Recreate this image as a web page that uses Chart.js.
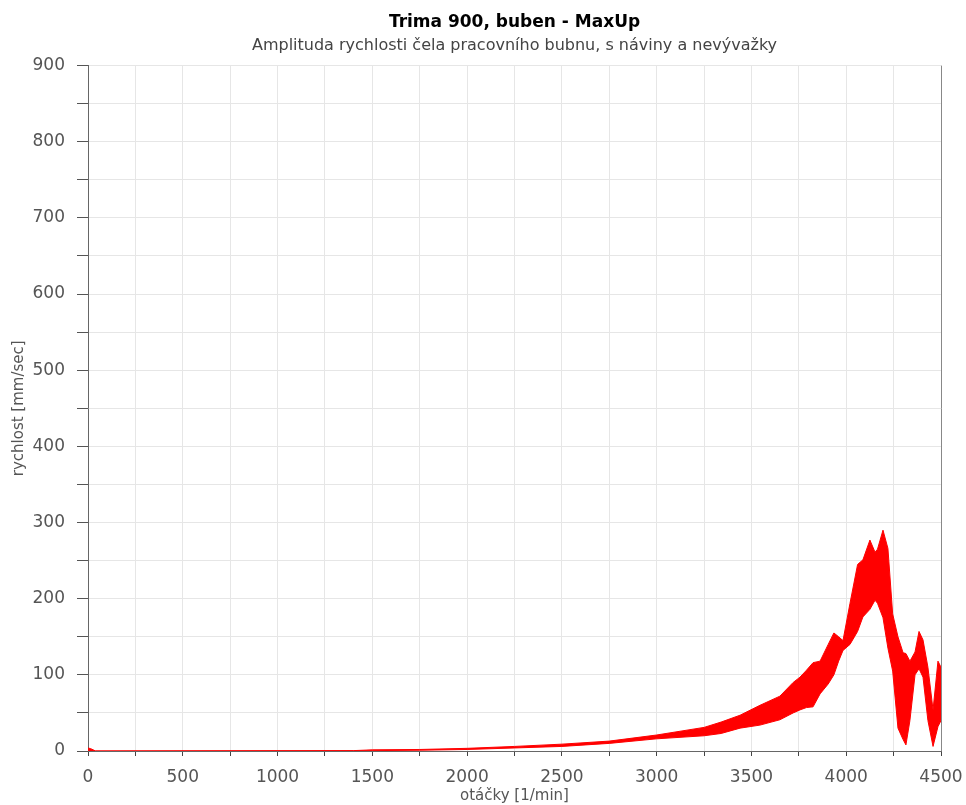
<!DOCTYPE html>
<html>
<head>
<meta charset="utf-8">
<script src="https://cdn.jsdelivr.net/npm/chart.js@4.4.1/dist/chart.umd.min.js"></script>
<style>
  html, body { margin: 0; padding: 0; background: #fff; }
  #wrap { width: 966px; height: 805px; }
</style>
</head>
<body>
<div id="wrap"><canvas id="chart"></canvas></div>
<script>
// otáčky [1/min]
const rpm = [0, 15, 40, 1400, 1500, 1750, 2000, 2250, 2500, 2750, 3000, 3250, 3340, 3440, 3545, 3650, 3720, 3756, 3790, 3825, 3862, 3905, 3935, 3960, 3983, 4020, 4060, 4088, 4125, 4152, 4165, 4194, 4220, 4245, 4273, 4300, 4315, 4336, 4363, 4384, 4405, 4431, 4458, 4484, 4500];
// upper / lower envelope of the velocity amplitude [mm/sec]
const upper = [4, 3, 0, 0.5, 1.5, 2, 3.5, 6, 9, 13, 21, 31, 38, 47, 60, 72, 90, 97, 106, 116, 118, 140, 155, 150, 145, 194, 245, 251, 277, 261, 265, 290, 266, 180, 150, 129, 128, 118, 130, 157, 146, 110, 54, 118, 110];
const lower = [0, 0, 0, 0, 0.5, 1, 2, 4, 6, 10, 16, 20, 23, 30, 34, 41, 50, 54, 57, 58, 75, 88, 100, 118, 132, 140, 157, 176, 186, 198, 194, 175, 135, 105, 30, 15, 8, 40, 100, 108, 97, 40, 6, 32, 40];

const font = '"DejaVu Sans", Verdana, sans-serif';

const toPoints = (ys) => rpm.map((x, i) => ({ x: x, y: ys[i] }));

const ctx = document.getElementById('chart').getContext('2d');
const chart = new Chart(ctx, {
    type: 'line',
    data: {
        datasets: [{
            label: 'max',
            data: toPoints(upper),
            borderColor: '#ff0000',
            backgroundColor: '#ff0000',
            borderWidth: 1,
            pointRadius: 0,
            fill: '+1'
        }, {
            label: 'min',
            data: toPoints(lower),
            borderColor: '#ff0000',
            borderWidth: 1,
            pointRadius: 0,
            fill: false
        }]
    },
    options: {
        responsive: true,
        maintainAspectRatio: false,
        animation: false,
        layout: {
            padding: { left: 0, right: 25, top: 0, bottom: 0 }
        },
        plugins: {
            legend: { display: false },
            tooltip: { enabled: false },
            title: {
                display: true,
                fullSize: false,
                text: 'Trima 900, buben - MaxUp',
                color: '#000',
                font: { family: font, size: 17, weight: 'bold' },
                padding: { top: 12, bottom: 1 }
            },
            subtitle: {
                display: true,
                fullSize: false,
                text: 'Amplituda rychlosti čela pracovního bubnu, s náviny a nevývažky',
                color: '#444',
                font: { family: font, size: 16 },
                padding: { top: 3, bottom: 10 }
            }
        },
        scales: {
            x: {
                type: 'linear',
                min: 0,
                max: 4500,
                afterFit: (scale) => {
                    // keep the plot edge where the reference has it; the last label may overhang
                    scale.height = 54;
                    scale.paddingLeft = 0;
                    scale.paddingRight = 0;
                },
                border: { color: '#666', width: 1 },
                grid: {
                    color: (c) => c.tick && c.tick.value === 4500 ? '#888' : '#e6e6e6',
                    tickColor: '#444',
                    tickLength: 5
                },
                ticks: {
                    stepSize: 250,
                    autoSkip: false,
                    maxRotation: 0,
                    padding: 11,
                    color: '#555',
                    font: { family: font, size: 17 },
                    callback: (v) => v % 500 === 0 ? String(v) : ''
                },
                title: {
                    display: true,
                    text: 'otáčky [1/min]',
                    color: '#555',
                    font: { family: font, size: 15 },
                    padding: { top: 0, bottom: 0 }
                }
            },
            y: {
                type: 'linear',
                min: 0,
                max: 900,
                afterFit: (scale) => { scale.width = 88; },
                border: { color: '#666', width: 1 },
                grid: {
                    color: '#e6e6e6',
                    tickColor: '#555',
                    tickLength: 11
                },
                ticks: {
                    stepSize: 50,
                    autoSkip: false,
                    padding: 12,
                    color: '#555',
                    font: { family: font, size: 17 },
                    callback: (v) => v % 100 === 0 ? String(v) : ''
                },
                title: {
                    display: true,
                    text: 'rychlost [mm/sec]',
                    color: '#555',
                    font: { family: font, size: 15 },
                    padding: { top: 10, bottom: 0 }
                }
            }
        }
    }
});
</script>
</body>
</html>
